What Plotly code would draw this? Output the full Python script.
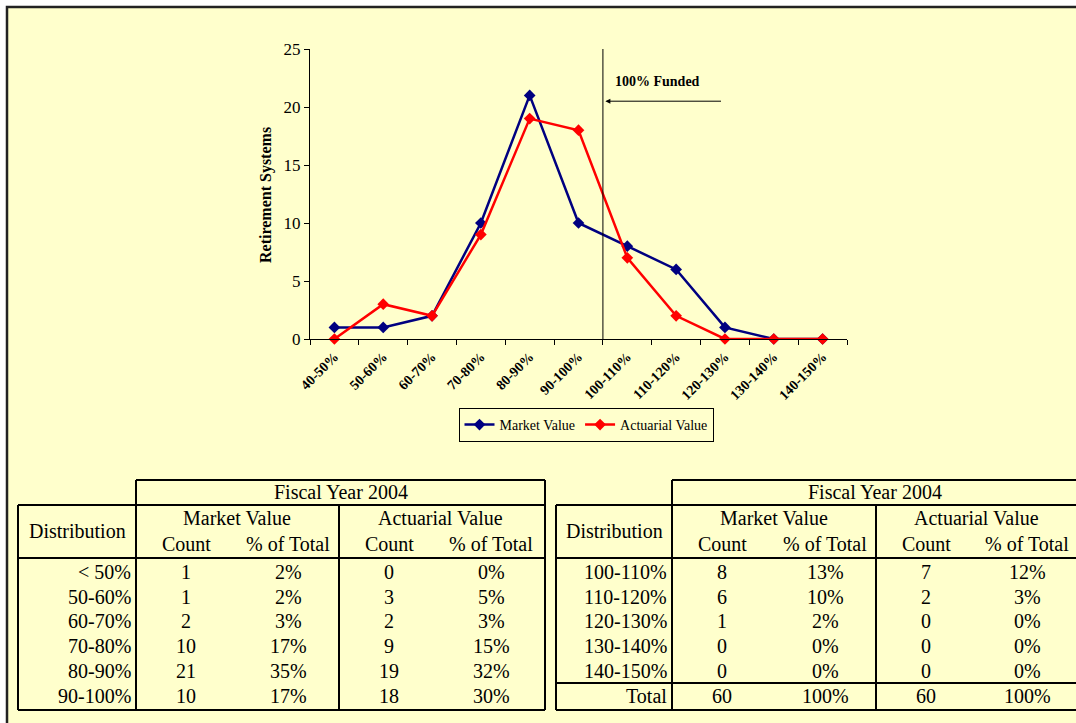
import plotly.graph_objects as go

# ---- chart data -------------------------------------------------------------
categories = ["40-50%", "50-60%", "60-70%", "70-80%", "80-90%", "90-100%",
              "100-110%", "110-120%", "120-130%", "130-140%", "140-150%"]
market_value = [1, 1, 2, 10, 21, 10, 8, 6, 1, 0, 0]
actuarial_value = [0, 3, 2, 9, 19, 18, 7, 2, 0, 0, 0]

# ---- table data -------------------------------------------------------------
left_dist = ["< 50%", "50-60%", "60-70%", "70-80%", "80-90%", "90-100%"]
left_mv_count = ["1", "1", "2", "10", "21", "10"]
left_mv_pct = ["2%", "2%", "3%", "17%", "35%", "17%"]
left_av_count = ["0", "3", "2", "9", "19", "18"]
left_av_pct = ["0%", "5%", "3%", "15%", "32%", "30%"]

right_dist = ["100-110%", "110-120%", "120-130%", "130-140%", "140-150%", "Total"]
right_mv_count = ["8", "6", "1", "0", "0", "60"]
right_mv_pct = ["13%", "10%", "2%", "0%", "0%", "100%"]
right_av_count = ["7", "2", "0", "0", "0", "60"]
right_av_pct = ["12%", "3%", "0%", "0%", "0%", "100%"]

W, H = 1076, 723
BG = "#FFFFCC"
SERIF = "Liberation Serif, Times New Roman, serif"


def px(x):
    return x / W


def py(y):
    return 1 - y / H


fig = go.Figure()

fig.add_trace(go.Scatter(
    x=categories, y=market_value, name="Market Value", mode="lines+markers",
    line=dict(color="#000080", width=2.5),
    marker=dict(symbol="diamond", size=9, color="#000080"),
    cliponaxis=False,
))
fig.add_trace(go.Scatter(
    x=categories, y=actuarial_value, name="Actuarial Value", mode="lines+markers",
    line=dict(color="#FF0000", width=2.5),
    marker=dict(symbol="diamond", size=9, color="#FF0000"),
    cliponaxis=False,
))

shapes = []
annotations = []

# outer frame
shapes.append(dict(type="rect", xref="paper", yref="paper", layer="below",
                   x0=px(7), x1=px(W + 20), y0=py(7), y1=py(H + 20),
                   line=dict(color="#222222", width=2.5), fillcolor=BG))

# 100% funded marker line and arrow
shapes.append(dict(type="line", xref="x", yref="y", x0=5.5, x1=5.5, y0=0, y1=25.4,
                   line=dict(color="#000000", width=1)))
annotations.append(dict(xref="x", yref="y", x=5.55, y=20.5, ax=7.95, ay=20.5,
                        axref="x", ayref="y", text="", showarrow=True,
                        arrowhead=2, arrowsize=1, arrowwidth=1, arrowcolor="#000000"))
annotations.append(dict(xref="x", yref="y", x=5.7, y=22.2, text="<b>100% Funded</b>",
                        showarrow=False, xanchor="left", yanchor="middle",
                        font=dict(family=SERIF, size=14, color="#000000")))

# y axis title
annotations.append(dict(xref="paper", yref="paper", x=px(266), y=py(195),
                        text="<b>Retirement Systems</b>", textangle=-90,
                        showarrow=False, xanchor="center", yanchor="middle",
                        font=dict(family=SERIF, size=16, color="#000000")))


# ---- tables -----------------------------------------------------------------
def hline(x0, x1, y, w=2):
    shapes.append(dict(type="line", xref="paper", yref="paper",
                       x0=px(x0), x1=px(x1), y0=py(y), y1=py(y),
                       line=dict(color="#000000", width=w)))


def vline(x, y0, y1, w=2):
    shapes.append(dict(type="line", xref="paper", yref="paper",
                       x0=px(x), x1=px(x), y0=py(y0), y1=py(y1),
                       line=dict(color="#000000", width=w)))


def text(x, y, s, anchor="center", size=20):
    annotations.append(dict(xref="paper", yref="paper", x=px(x), y=py(y), text=s,
                            showarrow=False, xanchor=anchor, yanchor="middle",
                            font=dict(family=SERIF, size=size, color="#000000")))


ROW_Y = [572, 597, 621, 646, 671, 696]


def draw_table(left, split, mid, right, cols, dist, mv_c, mv_p, av_c, av_p, total_line):
    top_fy, top_body, head_bot, bottom = 480, 505, 558, 710
    hline(split, right, top_fy)
    hline(left, right, top_body)
    vline(split, top_fy, bottom)
    vline(right, top_fy, bottom)
    vline(left, top_body, bottom)
    vline(mid, top_body, bottom)
    hline(left, right, head_bot)
    hline(left, right, bottom)
    if total_line:
        hline(left, right, 683)
    c_dist_r, c1, c2, c3, c4 = cols
    text((split + min(right, 1078)) / 2, 492, "Fiscal Year 2004")
    text((left + split) / 2, 531, "Distribution")
    text((c1 + c2) / 2, 518, "Market Value")
    text((c3 + c4) / 2, 518, "Actuarial Value")
    for cx, lab in zip((c1, c2, c3, c4), ("Count", "% of Total", "Count", "% of Total")):
        text(cx, 544, lab)
    for i, y in enumerate(ROW_Y):
        text(c_dist_r, y, dist[i], anchor="right")
        text(c1, y, mv_c[i])
        text(c2, y, mv_p[i])
        text(c3, y, av_c[i])
        text(c4, y, av_p[i])


draw_table(18, 136, 339, 545, (133, 186, 288, 389, 491),
           left_dist, left_mv_count, left_mv_pct, left_av_count, left_av_pct, False)
draw_table(556, 672, 876, 1090, (669, 722, 825, 926, 1027),
           right_dist, right_mv_count, right_mv_pct, right_av_count, right_av_pct, True)

fig.update_layout(
    template="none",
    width=W, height=H, autosize=False,
    margin=dict(l=0, r=0, t=0, b=0, pad=0, autoexpand=False),
    paper_bgcolor="white", plot_bgcolor="rgba(0,0,0,0)",
    font=dict(family=SERIF, color="#000000"),
    shapes=shapes, annotations=annotations,
    showlegend=True,
    legend=dict(orientation="h", x=px(586), xanchor="center", y=py(425), yanchor="middle",
                bgcolor=BG, bordercolor="#000000", borderwidth=1,
                font=dict(family=SERIF, size=14, color="#000000"),
                itemwidth=30, tracegroupgap=0),
    xaxis=dict(domain=[px(310), px(847)], type="category", tickson="boundaries",
               range=[-0.5, len(categories) - 0.5], automargin=False,
               ticks="outside", ticklen=5, tickcolor="#000000",
               showline=True, linecolor="#000000", linewidth=1,
               showgrid=False, zeroline=False, tickangle=-45, ticklabelstandoff=3,
               tickfont=dict(family=SERIF, size=14, color="#000000", weight="bold")),
    yaxis=dict(domain=[py(339), py(49)], range=[0, 25], dtick=5, automargin=False,
               ticks="outside", ticklen=5, tickcolor="#000000",
               showline=True, linecolor="#000000", linewidth=1,
               showgrid=False, zeroline=False,
               tickfont=dict(family=SERIF, size=17, color="#000000")),
)

fig.write_html("out.html")
